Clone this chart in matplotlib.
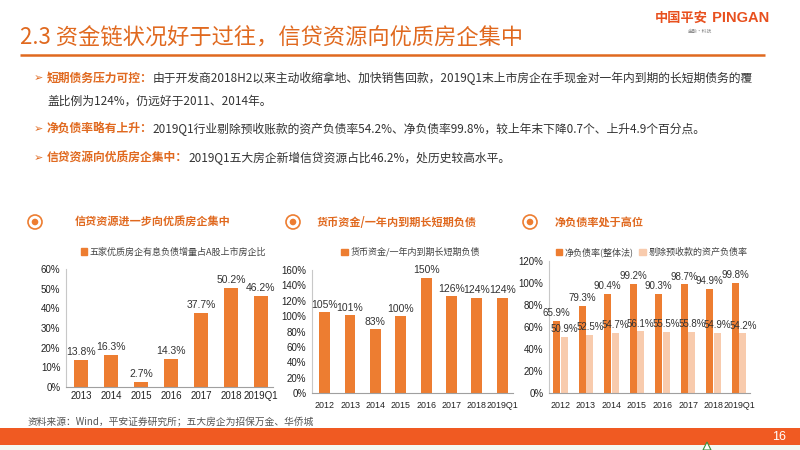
import matplotlib
matplotlib.use("Agg")
import matplotlib.pyplot as plt
from matplotlib.patches import Circle, Rectangle, Polygon
from matplotlib.patches import Patch
import numpy as np

plt.rcParams['font.family'] = ['Noto Sans CJK SC', 'DejaVu Sans']

# ---------------- data ----------------
title = "2.3 资金链状况好于过往，信贷资源向优质房企集中"
bullet_heads = ["短期债务压力可控：", "净负债率略有上升：", "信贷资源向优质房企集中："]
bullet_bodies = [
    "由于开发商2018H2以来主动收缩拿地、加快销售回款，2019Q1末上市房企在手现金对一年内到期的长短期债务的覆",
    "2019Q1行业剔除预收账款的资产负债率54.2%、净负债率99.8%，较上年末下降0.7个、上升4.9个百分点。",
    "2019Q1五大房企新增信贷资源占比46.2%，处历史较高水平。",
]
bullet1_line2 = "盖比例为124%，仍远好于2011、2014年。"

c1_title = "信贷资源进一步向优质房企集中"
c1_legend = "五家优质房企有息负债增量占A股上市房企比"
c1_cats = ["2013", "2014", "2015", "2016", "2017", "2018", "2019Q1"]
c1_vals = [13.8, 16.3, 2.7, 14.3, 37.7, 50.2, 46.2]

c2_title = "货币资金/一年内到期长短期负债"
c2_legend = "货币资金/一年内到期长短期负债"
c2_cats = ["2012", "2013", "2014", "2015", "2016", "2017", "2018", "2019Q1"]
c2_vals = [105, 101, 83, 100, 150, 126, 124, 124]

c3_title = "净负债率处于高位"
c3_legend = ["净负债率(整体法)", "剔除预收款的资产负债率"]
c3_cats = ["2012", "2013", "2014", "2015", "2016", "2017", "2018", "2019Q1"]
c3_net = [65.9, 79.3, 90.4, 99.2, 90.3, 98.7, 94.9, 99.8]
c3_alr = [50.9, 52.5, 54.7, 56.1, 55.5, 55.8, 54.9, 54.2]

source = "资料来源：Wind，平安证券研究所；五大房企为招保万金、华侨城"
page_no = "16"

# ---------------- styles ----------------
ORANGE = "#ED7D31"
LIGHT = "#F8CBAD"
TITLE_OR = "#E0691F"
BAND = "#F05A22"
TXT = "#333333"
TICKF = ['Liberation Sans', 'DejaVu Sans']

fig = plt.figure(figsize=(8, 4.5), dpi=100)
fig.patch.set_facecolor("white")
bg = fig.add_axes([0, 0, 1, 1], zorder=0)
bg.set_xlim(0, 800)
bg.set_ylim(450, 0)
bg.axis("off")

# title
bg.text(20, 38, title, fontsize=16, color=TITLE_OR, va="center", ha="left")
bg.plot([20, 765], [55, 55], color=TITLE_OR, lw=1.8, solid_capstyle="butt")
# logo
lg = bg.text(655, 18, "中国平安", fontsize=9.5, fontweight="bold", color="#E8501E", va="center")
bg.annotate(" PINGAN", xy=(1, 0.5), xycoords=lg, fontsize=10.5, fontweight="bold",
            color="#E8501E", va="center", ha="left", family=TICKF)
bg.text(688, 31, "金融·科技", fontsize=3.5, color="#888888", va="center")

# bullets
ys = [78, 129, 158]
BF = 8.5
for y, h, b in zip(ys, bullet_heads, bullet_bodies):
    bg.text(34, y, "➢", fontsize=8, color=TITLE_OR, va="center", family="DejaVu Sans")
    t = bg.text(47, y, h, fontsize=BF, fontweight="bold", color=TITLE_OR, va="center")
    bg.annotate(b, xy=(1, 0.5), xycoords=t, fontsize=BF, color=TXT, va="center", ha="left")
bg.text(47, 101, bullet1_line2, fontsize=BF, color=TXT, va="center")

# chart headers
for cx, tx, tt in [(35, 75, c1_title), (293, 317, c2_title), (530, 555, c3_title)]:
    bg.add_patch(Circle((cx, 222), 7, fill=False, ec=ORANGE, lw=1.2))
    bg.add_patch(Circle((cx, 222), 3.3, fc=ORANGE, ec="none"))
    bg.text(tx, 222, tt, fontsize=8, fontweight="bold", color=TITLE_OR, va="center")

# footer
bg.text(28, 421, source, fontsize=7, color="#555555", va="center")
bg.add_patch(Rectangle((0, 428), 800, 17, fc=BAND, ec="none"))
bg.add_patch(Rectangle((0, 445), 800, 5, fc="#F4F8F2", ec="none"))
bg.text(786, 437, page_no, fontsize=9, color="white", va="center", ha="right", family=TICKF)
bg.add_patch(Polygon([[703, 450], [707, 442], [711, 450]], closed=True, fc="white", ec="#3A8F3A", lw=0.8))


def style_axes(ax, ymax, ystep, pad, xsize=7):
    for s in ["top", "right"]:
        ax.spines[s].set_visible(False)
    ax.spines["left"].set_color("#C8C8C8")
    ax.spines["bottom"].set_color("#A0A0A0")
    ax.spines["left"].set_linewidth(0.8)
    ax.spines["bottom"].set_linewidth(0.8)
    ax.set_ylim(0, ymax)
    ax.set_yticks(np.arange(0, ymax + 0.1, ystep))
    ax.set_yticklabels([f"{int(v)}%" for v in np.arange(0, ymax + 0.1, ystep)])
    ax.tick_params(axis="both", length=0, labelsize=7, colors="#222222")
    ax.tick_params(axis="x", pad=pad, labelsize=xsize)
    ax.tick_params(axis="y", pad=4)
    for lab in ax.get_xticklabels() + ax.get_yticklabels():
        lab.set_family(TICKF)


# chart 1
ax1 = fig.add_axes([66 / 800, 1 - 387 / 450, 207 / 800, 118 / 450], zorder=2)
x1 = np.arange(len(c1_cats))
ax1.bar(x1, c1_vals, width=0.45, color=ORANGE, label=c1_legend)
ax1.set_xticks(x1)
ax1.set_xticklabels(c1_cats)
ax1.set_xlim(-0.5, len(c1_cats) - 0.6)
style_axes(ax1, 60, 10, 3)
for xi, v in zip(x1, c1_vals):
    ax1.text(xi, v + 1.5, f"{v:.1f}%", ha="center", va="bottom", fontsize=7.5, color=TXT, family=TICKF)
ax1.legend(handles=[Patch(color=ORANGE, label=c1_legend)], loc="center", bbox_to_anchor=(0.52, 1.145),
           frameon=False, fontsize=6.5, handlelength=0.7, handleheight=0.7, handletextpad=0.3,
           labelcolor="#444444")

# chart 2
ax2 = fig.add_axes([312 / 800, 1 - 393 / 450, 201 / 800, 123 / 450], zorder=2)
x2 = np.arange(len(c2_cats))
ax2.bar(x2, c2_vals, width=0.43, color=ORANGE)
ax2.set_xticks(x2)
ax2.set_xticklabels(c2_cats)
ax2.set_xlim(-0.5, len(c2_cats) - 0.57)
style_axes(ax2, 160, 20, 6, xsize=6.4)
for xi, v in zip(x2, c2_vals):
    ax2.text(xi, v + 3, f"{v}%", ha="center", va="bottom", fontsize=7.5, color=TXT, family=TICKF)
ax2.legend(handles=[Patch(color=ORANGE, label=c2_legend)], loc="center", bbox_to_anchor=(0.49, 1.146),
           frameon=False, fontsize=6.5, handlelength=0.7, handleheight=0.7, handletextpad=0.3,
           labelcolor="#444444")

# chart 3
ax3 = fig.add_axes([549 / 800, 1 - 393 / 450, 201 / 800, 132 / 450], zorder=2)
x3 = np.arange(len(c3_cats))
w = 0.28
ax3.bar(x3 - 0.15, c3_net, width=w, color=ORANGE)
ax3.bar(x3 + 0.15, c3_alr, width=w, color=LIGHT)
ax3.set_xticks(x3)
ax3.set_xticklabels(c3_cats)
ax3.set_xlim(-0.45, len(c3_cats) - 0.57)
style_axes(ax3, 120, 20, 6, xsize=6.4)
for xi, v in zip(x3, c3_net):
    ax3.text(xi - 0.15, v + 2.5, f"{v:.1f}%", ha="center", va="bottom", fontsize=7, color=TXT, family=TICKF)
for xi, v in zip(x3, c3_alr):
    ax3.text(xi + 0.15, v + 2.5, f"{v:.1f}%", ha="center", va="bottom", fontsize=7, color=TXT, family=TICKF)
ax3.legend(handles=[Patch(color=ORANGE, label=c3_legend[0]), Patch(color=LIGHT, label=c3_legend[1])],
           loc="center", bbox_to_anchor=(0.51, 1.068), ncol=2, frameon=False, fontsize=6.5,
           handlelength=0.7, handleheight=0.7, handletextpad=0.3, columnspacing=0.6,
           labelcolor="#444444")

fig.savefig("out.png", dpi=100, facecolor="white")
